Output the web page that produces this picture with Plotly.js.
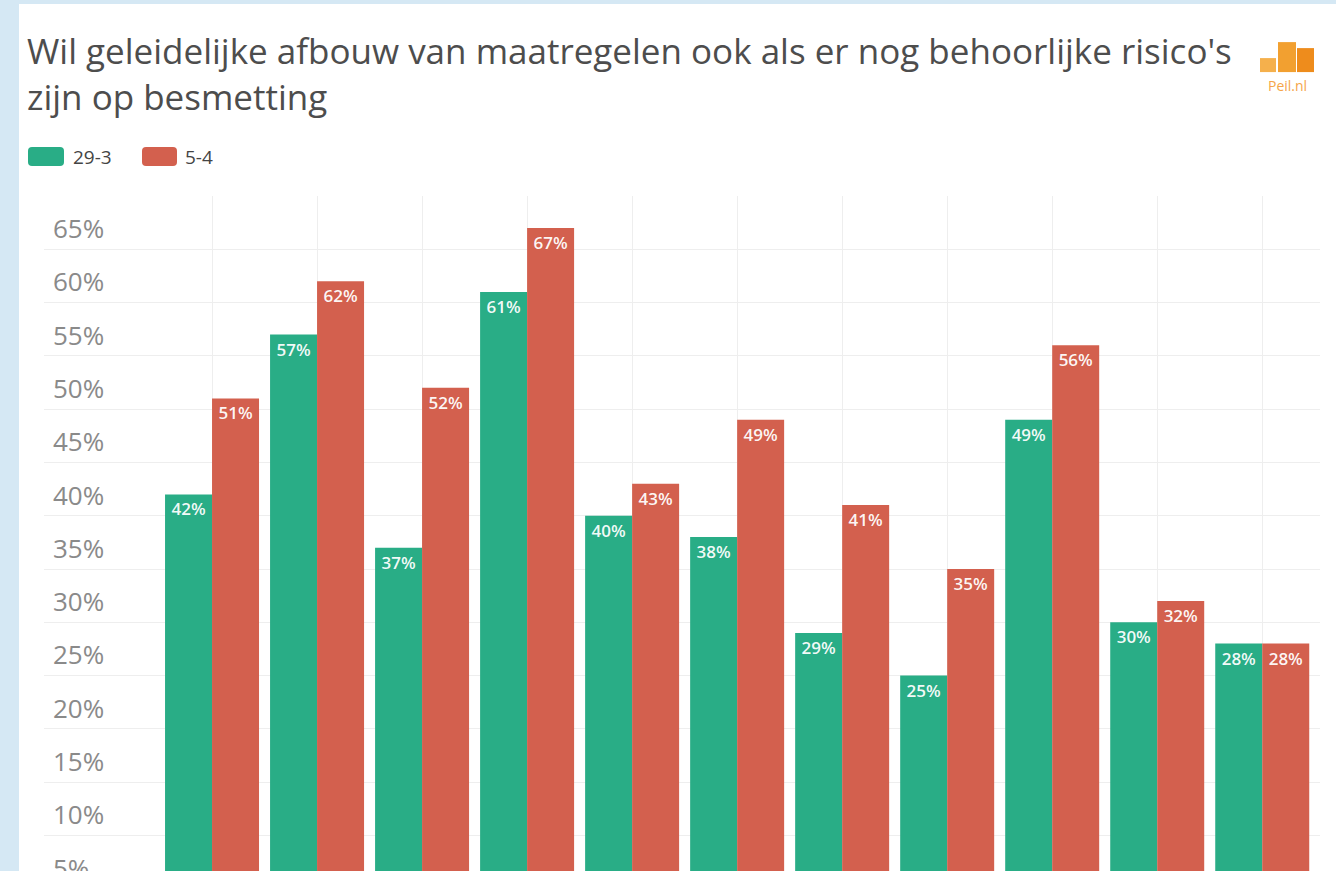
<!DOCTYPE html>
<html>
<head>
<meta charset="utf-8">
<script src="https://cdn.plot.ly/plotly-3.0.1.min.js"></script>
<style>
  html, body { margin: 0; padding: 0; background: #d5e8f4; overflow: hidden; width: 1336px; height: 871px; }
  #chart { position: absolute; left: 19px; top: 4px; width: 1317px; height: 980px; background: #ffffff; }
</style>
</head>
<body>
<div id="chart"></div>
<script>
// Data
const categories = ["Groep 1", "Groep 2", "Groep 3", "Groep 4", "Groep 5", "Groep 6", "Groep 7", "Groep 8", "Groep 9", "Groep 10", "Groep 11"];
const series1Name = "29-3";
const series1Values = [42, 57, 37, 61, 40, 38, 29, 25, 49, 30, 28];
const series2Name = "5-4";
const series2Values = [51, 62, 52, 67, 43, 49, 41, 35, 56, 32, 28];
const yTickValues = [5, 10, 15, 20, 25, 30, 35, 40, 45, 50, 55, 60, 65, 70];
const yTickLabels = ["5%", "10%", "15%", "20%", "25%", "30%", "35%", "40%", "45%", "50%", "55%", "60%", "65%", ""];

const GREEN = "#29ad86";
const RED = "#d3604e";
const FONT = "'Open Sans', Lato, sans-serif";

// layout geometry (page pixels)
const DIV_L = 19, DIV_T = 4, W = 1317, H = 980;
const M = { l: 25, r: 16, t: 192, b: 41.5, pad: 0 };
const plotW = W - M.l - M.r, plotH = H - M.t - M.b;
const px = x => (x - DIV_L - M.l) / plotW;
const py = y => (DIV_T + M.t + plotH - y) / plotH;

function roundRect(x0, y0, x1, y1, r) {
  const p = (x, y) => px(x) + "," + py(y);
  return "M" + p(x0 + r, y0) + " L" + p(x1 - r, y0) + " Q" + p(x1, y0) + " " + p(x1, y0 + r) +
    " L" + p(x1, y1 - r) + " Q" + p(x1, y1) + " " + p(x1 - r, y1) +
    " L" + p(x0 + r, y1) + " Q" + p(x0, y1) + " " + p(x0, y1 - r) +
    " L" + p(x0, y0 + r) + " Q" + p(x0, y0) + " " + p(x0 + r, y0) + " Z";
}

const labelFont = { family: FONT, size: 17, color: "rgba(255,255,255,0.95)", weight: 600 };

const traces = [
  {
    type: "bar", name: series1Name, x: categories, y: series1Values,
    marker: { color: GREEN, line: { width: 0 } },
    text: series1Values.map(v => v + "%"), textposition: "inside", insidetextanchor: "end",
    textangle: 0, constraintext: "none", textfont: labelFont, hoverinfo: "x+y"
  },
  {
    type: "bar", name: series2Name, x: categories, y: series2Values,
    marker: { color: RED, line: { width: 0 } },
    text: series2Values.map(v => v + "%"), textposition: "inside", insidetextanchor: "end",
    textangle: 0, constraintext: "none", textfont: labelFont, hoverinfo: "x+y"
  }
];

const shapes = [
  { type: "path", xref: "paper", yref: "paper", path: roundRect(28, 147, 64, 166, 4), fillcolor: GREEN, line: { width: 0 } },
  { type: "path", xref: "paper", yref: "paper", path: roundRect(142, 147, 177, 166, 4), fillcolor: RED, line: { width: 0 } },
  { type: "rect", xref: "paper", yref: "paper", x0: px(1260), x1: px(1276), y0: py(72), y1: py(58), fillcolor: "#f5b04c", line: { width: 0 } },
  { type: "rect", xref: "paper", yref: "paper", x0: px(1278), x1: px(1296), y0: py(72), y1: py(42), fillcolor: "#f2a030", line: { width: 0 } },
  { type: "rect", xref: "paper", yref: "paper", x0: px(1297), x1: px(1314), y0: py(72), y1: py(48), fillcolor: "#ee8c1c", line: { width: 0 } }
];

const annotations = [
  { xref: "paper", yref: "paper", x: px(71), y: py(157), xanchor: "left", yanchor: "middle", text: series1Name, showarrow: false,
    font: { family: FONT, size: 19, color: "#444444" } },
  { xref: "paper", yref: "paper", x: px(183), y: py(157), xanchor: "left", yanchor: "middle", text: series2Name, showarrow: false,
    font: { family: FONT, size: 19, color: "#444444" } },
  { xref: "paper", yref: "paper", x: px(1287), y: py(85), xanchor: "center", yanchor: "middle", text: "Peil.nl", showarrow: false,
    font: { family: FONT, size: 14, color: "#f5a54a" } }
];

const layout = {
  width: W, height: H,
  margin: M,
  paper_bgcolor: "#ffffff", plot_bgcolor: "#ffffff",
  showlegend: false,
  barmode: "group", bargap: 0.105, bargroupgap: 0,
  title: {
    text: "Wil geleidelijke afbouw van maatregelen ook als er nog behoorlijke risico's<br>zijn op besmetting",
    x: 8 / W, xref: "container", xanchor: "left",
    y: 1 - 60 / H, yref: "container", yanchor: "top",
    font: { family: FONT, size: 35, color: "#4d4d4d" }
  },
  xaxis: {
    type: "category", range: [-1.6, 10.55],
    showgrid: true, gridcolor: "#eeeeee", gridwidth: 1,
    showticklabels: false, ticks: "", zeroline: false, showline: false, fixedrange: true
  },
  yaxis: {
    range: [0, 70], tickvals: yTickValues, ticktext: yTickLabels,
    ticklabelposition: "inside top", ticklabelstandoff: 6, ticklabelshift: -2,
    tickfont: { family: FONT, size: 26, color: "#8a8a8a" },
    showgrid: true, gridcolor: "#eeeeee", gridwidth: 1,
    ticks: "", zeroline: false, showline: false, fixedrange: true
  },
  shapes: shapes,
  annotations: annotations,
  font: { family: FONT }
};

Plotly.newPlot("chart", traces, layout, { displayModeBar: false, staticPlot: true });
</script>
</body>
</html>
